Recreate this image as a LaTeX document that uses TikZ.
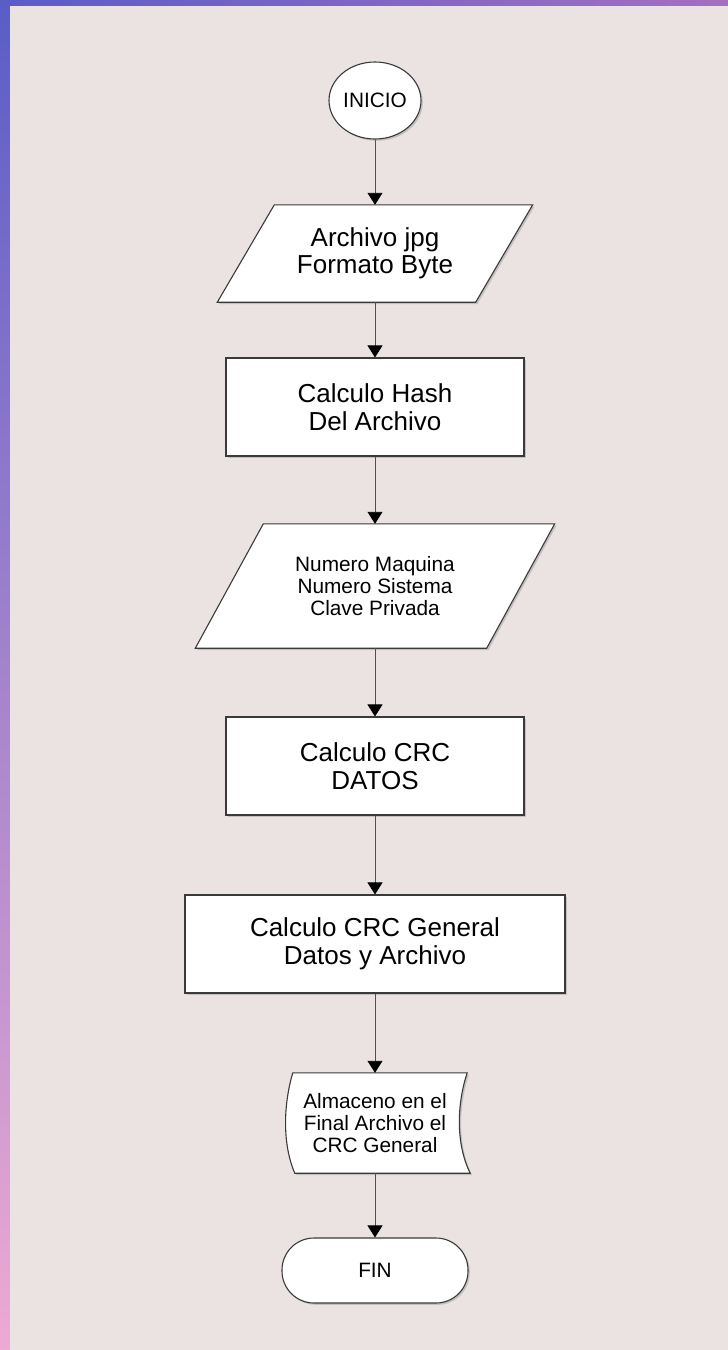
\documentclass[tikz,border=0pt]{standalone}
\usepackage{fontspec}
\setmainfont{Liberation Sans}
\usetikzlibrary{shapes.geometric,arrows.meta,shadows,backgrounds}
\definecolor{panel}{HTML}{EBE3E1}
\definecolor{edgecol}{HTML}{3A3A3A}
\definecolor{conncol}{HTML}{505050}
\definecolor{bgA}{HTML}{5A5DC6}
\definecolor{bgB}{HTML}{EDAAD3}
\definecolor{bgC}{HTML}{A46FC1}
\tikzset{
  shp/.style={draw=edgecol, line width=1.1pt, fill=white,
    drop shadow={shadow xshift=1.8pt, shadow yshift=-1.8pt, opacity=0.35}},
  holder/.style={draw=none, inner sep=0pt, align=center},
  bigtxt/.style={font=\fontsize{26}{27.5}\selectfont, align=center},
  smalltxt/.style={font=\fontsize{20.8}{22.3}\selectfont, align=center},
  connector/.style={draw=conncol, line width=0.9pt,
    -{Triangle[width=15pt,length=12pt,color=black]}}
}
\begin{document}
\begin{tikzpicture}[x=1pt,y=-1pt]
\useasboundingbox (0,0) rectangle (728,1350);
\begin{scope}[on background layer]
  \shade[top color=bgA, bottom color=bgB] (0,0) rectangle (10,1350);
  \shade[left color=bgA, right color=bgC] (0,0) rectangle (728,6);
  \fill[panel] (10,6) rectangle (728,1350);
\end{scope}

\node[shp, ellipse, minimum width=92pt, minimum height=77pt, inner sep=0pt, smalltxt] (ini) at (375,100.5) {INICIO};

\node[holder, bigtxt, minimum width=258pt, minimum height=97pt] (p1) at (375,253.5) {Archivo jpg\\Formato Byte};
\begin{scope}[on background layer]
  \draw[shp] ([xshift=-28.5pt]p1.south west) -- ([xshift=28.5pt]p1.north west)
    -- ([xshift=28.5pt]p1.north east) -- ([xshift=-28.5pt]p1.south east) -- cycle;
\end{scope}

\node[shp, rectangle, minimum width=298pt, minimum height=98pt, bigtxt] (r1) at (375,407) {Calculo Hash\\Del Archivo};

\node[holder, smalltxt, minimum width=291pt, minimum height=124pt] (p2) at (375,586) {Numero Maquina\\Numero Sistema\\Clave Privada};
\begin{scope}[on background layer]
  \draw[shp] ([xshift=-34pt]p2.south west) -- ([xshift=34pt]p2.north west)
    -- ([xshift=34pt]p2.north east) -- ([xshift=-34pt]p2.south east) -- cycle;
\end{scope}

\node[shp, rectangle, minimum width=298pt, minimum height=98pt, bigtxt] (r2) at (375,766) {Calculo CRC\\DATOS};

\node[shp, rectangle, minimum width=380pt, minimum height=98pt, bigtxt] (r3) at (375,944) {Calculo CRC General\\Datos y Archivo};

\node[holder, smalltxt, minimum width=174pt, minimum height=100pt] (doc) at (375,1123) {Almaceno en el\\Final Archivo el\\CRC General};
\begin{scope}[on background layer]
  \draw[shp] ([xshift=5pt]doc.north west) -- ([xshift=5pt]doc.north east)
    .. controls ([xshift=-5pt,yshift=-30pt]doc.north east) and ([xshift=-7pt,yshift=-70pt]doc.north east)
    .. ([xshift=8pt]doc.south east) -- ([xshift=7pt]doc.south west)
    .. controls ([xshift=-6pt,yshift=30pt]doc.south west) and ([xshift=-4pt,yshift=-30pt]doc.north west)
    .. ([xshift=5pt]doc.north west) -- cycle;
\end{scope}

\node[shp, rectangle, rounded corners=32pt, minimum width=186pt, minimum height=65pt, smalltxt] (fin) at (375,1270.5) {FIN};

\draw[connector] (ini.south) -- (p1.north);
\draw[connector] (p1.south) -- (r1.north);
\draw[connector] (r1.south) -- (p2.north);
\draw[connector] (p2.south) -- (r2.north);
\draw[connector] (r2.south) -- (r3.north);
\draw[connector] (r3.south) -- (doc.north);
\draw[connector] (doc.south) -- (fin.north);
\end{tikzpicture}
\end{document}
